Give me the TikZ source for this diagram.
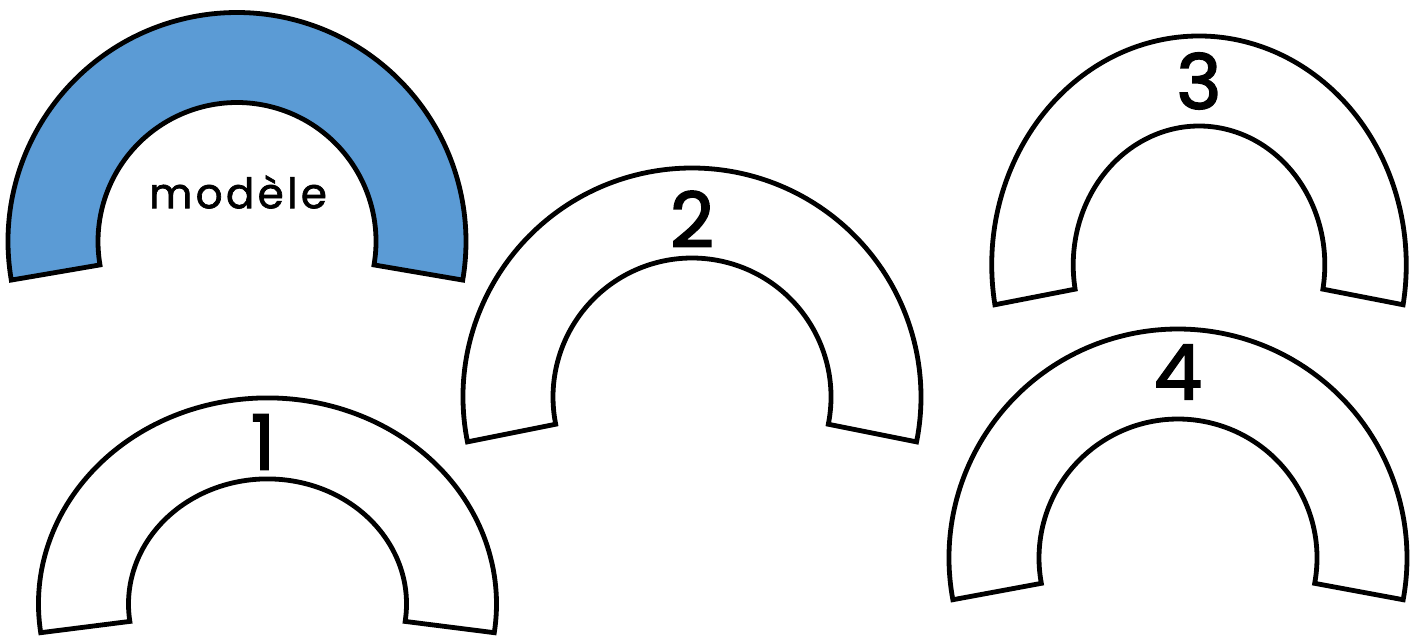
\documentclass[tikz,border=0pt]{standalone}
\usepackage{fontspec}
\setmainfont{Poppins}
\definecolor{archblue}{HTML}{5B9BD5}
\tikzset{
  archline/.style={draw=black, line width=4.8pt, line join=miter},
  digit/.style={font=\fontsize{76}{76}\selectfont\addfontfeature{FakeBold=2.4}, inner sep=0pt},
  modeltext/.style={font=\fontsize{42}{42}\selectfont\addfontfeature{LetterSpace=8,FakeBold=1.6}, inner sep=0pt}
}
% #1 cx, #2 cy, #3 xscale, #4 yscale, #5 end angle below horizontal, #6 fill
\newcommand\archshape[6]{%
  \begin{scope}[shift={(#1,#2)}, xscale=#3, yscale=#4]
    \draw[archline, fill=#6] (180-#5:229) arc[start angle=180-#5, end angle=360+#5, radius=229]
      -- (#5:139) arc[start angle=#5, end angle=-180-#5, radius=139] -- cycle;
  \end{scope}}
\begin{document}
\begin{tikzpicture}[x=1pt, y=-1pt]
\useasboundingbox (0,0) rectangle (1421,639);
\archshape{237}{241.5}{1}{1}{9.7}{archblue}
\archshape{692}{397}{1}{1}{11.3}{white}
\archshape{1199}{265}{0.905}{1}{10}{white}
\archshape{1178}{558}{1}{1}{10.5}{white}
\archshape{267.5}{604}{1}{0.9}{8}{white}
\node[modeltext] (modele) at (238,192) {modèle};
\node[digit] (n1) at (263,442) {1};
\node[digit] (n2) at (692,219) {2};
\node[digit] (n3) at (1199,81) {3};
\node[digit] (n4) at (1178,372) {4};
\end{tikzpicture}
\end{document}
